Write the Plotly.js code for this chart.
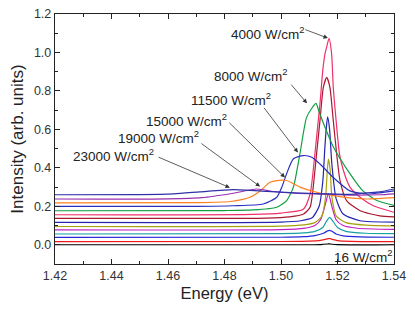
<!DOCTYPE html>
<html>
<head>
<meta charset="utf-8">
<script src="https://cdn.plot.ly/plotly-3.0.1.min.js"></script>
<style>html,body{margin:0;padding:0;background:#fff;}#chart{width:415px;height:312px;}</style>
</head>
<body>
<div id="chart"></div>
<script>
// Spectra (x = energy eV, y = intensity incl. vertical offset)
const x00 = [1.42, 1.51, 1.514, 1.5165, 1.517, 1.5175, 1.52, 1.54];
const y00 = [0.0, 0.0, 0.001, 0.004, 0.005, 0.004, 0.001, 0.0];
const x01 = [1.42, 1.50, 1.510, 1.514, 1.516, 1.517, 1.518, 1.520, 1.525, 1.54];
const y01 = [0.016, 0.017, 0.019, 0.023, 0.029, 0.033, 0.029, 0.022, 0.018, 0.016];
const x02 = [1.42, 1.50, 1.508, 1.512, 1.515, 1.5165, 1.5172, 1.518, 1.5195, 1.522, 1.528, 1.54];
const y02 = [0.038, 0.039, 0.042, 0.048, 0.06, 0.072, 0.075, 0.07, 0.056, 0.046, 0.041, 0.039];
const x03 = [1.42, 1.50, 1.508, 1.512, 1.5148, 1.516, 1.5172, 1.5185, 1.520, 1.523, 1.53, 1.54];
const y03 = [0.056, 0.058, 0.062, 0.07, 0.09, 0.12, 0.142, 0.12, 0.09, 0.07, 0.06, 0.058];
const x04 = [1.42, 1.50, 1.508, 1.512, 1.514, 1.5155, 1.5168, 1.518, 1.5195, 1.522, 1.527, 1.54];
const y04 = [0.077, 0.079, 0.085, 0.1, 0.13, 0.2, 0.265, 0.2, 0.13, 0.1, 0.086, 0.08];
const x05 = [1.42, 1.50, 1.508, 1.512, 1.5145, 1.5158, 1.5164, 1.5168, 1.5174, 1.518, 1.5195, 1.523, 1.53, 1.54];
const y05 = [0.095, 0.097, 0.103, 0.115, 0.15, 0.25, 0.39, 0.445, 0.39, 0.25, 0.15, 0.115, 0.102, 0.098];
const x06 = [1.42, 1.50, 1.507, 1.511, 1.5135, 1.5148, 1.5155, 1.516, 1.5165, 1.5172, 1.518, 1.5195, 1.522, 1.528, 1.54];
const y06 = [0.116, 0.118, 0.125, 0.14, 0.2, 0.33, 0.5, 0.6, 0.665, 0.6, 0.42, 0.24, 0.16, 0.125, 0.118];
const x07 = [1.42, 1.495, 1.503, 1.508, 1.5103, 1.5114, 1.5126, 1.5138, 1.515, 1.5162, 1.5173, 1.5185, 1.5197, 1.5209, 1.5232, 1.528, 1.535, 1.54];
const y07 = [0.137, 0.139, 0.145, 0.16, 0.195, 0.3, 0.473, 0.647, 0.82, 0.87, 0.82, 0.647, 0.473, 0.334, 0.23, 0.177, 0.15, 0.145];
const x08 = [1.42, 1.49, 1.500, 1.5079, 1.5103, 1.5114, 1.5126, 1.5138, 1.5148, 1.5156, 1.5162, 1.517, 1.5179, 1.5185, 1.5195, 1.5207, 1.5221, 1.5244, 1.528, 1.5327, 1.54];
const y08 = [0.156, 0.158, 0.165, 0.185, 0.264, 0.386, 0.56, 0.734, 0.908, 0.995, 1.03, 1.073, 0.995, 0.82, 0.647, 0.473, 0.386, 0.3, 0.247, 0.203, 0.169];
const x09 = [1.42, 1.48, 1.4902, 1.4985, 1.502, 1.5044, 1.5067, 1.509, 1.5109, 1.5124, 1.5135, 1.5156, 1.5185, 1.5244, 1.529, 1.5339, 1.54];
const y09 = [0.177, 0.178, 0.181, 0.195, 0.23, 0.3, 0.473, 0.66, 0.71, 0.735, 0.69, 0.61, 0.51, 0.37, 0.28, 0.23, 0.205];
const x10 = [1.42, 1.47, 1.4831, 1.4937, 1.4985, 1.5003, 1.502, 1.5044, 1.5079, 1.5109, 1.5138, 1.5185, 1.5244, 1.5303, 1.535, 1.54];
const y10 = [0.2, 0.2, 0.203, 0.212, 0.247, 0.3, 0.37, 0.447, 0.464, 0.455, 0.42, 0.35, 0.28, 0.264, 0.27, 0.28];
const x11 = [1.42, 1.47, 1.482, 1.489, 1.4926, 1.4961, 1.4985, 1.502, 1.5067, 1.5126, 1.5185, 1.5303, 1.54];
const y11 = [0.218, 0.219, 0.225, 0.247, 0.28, 0.325, 0.334, 0.334, 0.3, 0.273, 0.256, 0.238, 0.245];
const x12 = [1.42, 1.46, 1.472, 1.4831, 1.4914, 1.4973, 1.505, 1.515, 1.525, 1.535, 1.54];
const y12 = [0.238, 0.239, 0.245, 0.268, 0.29, 0.277, 0.268, 0.263, 0.258, 0.26, 0.265];
const x13 = [1.42, 1.45, 1.462, 1.4713, 1.483, 1.495, 1.505, 1.515, 1.525, 1.53, 1.535, 1.54];
const y13 = [0.26, 0.261, 0.265, 0.275, 0.287, 0.278, 0.27, 0.265, 0.262, 0.27, 0.275, 0.29];

const seriesX = [x00, x01, x02, x03, x04, x05, x06, x07, x08, x09, x10, x11, x12, x13];
const seriesY = [y00, y01, y02, y03, y04, y05, y06, y07, y08, y09, y10, y11, y12, y13];
const colors = ['#000000', '#f01818', '#2828d8', '#1aa0a0', '#c020c0', '#a8a010', '#2424b0',
                '#a81830', '#f0306a', '#10a040', '#2830c0', '#ff8020', '#9830b0', '#3030a8'];

// Labels
const labelTexts = ['4000 W/cm<sup>2</sup>', '8000 W/cm<sup>2</sup>', '11500 W/cm<sup>2</sup>',
                    '15000 W/cm<sup>2</sup>', '19000 W/cm<sup>2</sup>', '23000 W/cm<sup>2</sup>', '16 W/cm<sup>2</sup>'];
const labelX = [1.4819, 1.4760, 1.4678, 1.4519, 1.4418, 1.4259, 1.5184];
const labelY = [1.1007, 0.8816, 0.76, 0.6468, 0.5597, 0.4643, -0.0574];
// arrows: tail -> tip
const arrowTailX = [1.5081, 1.5032, 1.4936, 1.4812, 1.4713, 1.4561];
const arrowTailY = [1.1216, 0.84, 0.72, 0.642, 0.532, 0.459];
const arrowTipX = [1.5166, 1.5092, 1.506, 1.5014, 1.4926, 1.4819];
const arrowTipY = [1.0746, 0.7355, 0.48, 0.35, 0.3026, 0.297];

const traces = seriesX.map((xs, i) => ({
  x: xs, y: seriesY[i], type: 'scatter', mode: 'lines',
  line: {color: colors[i], width: 1.2, shape: 'spline', smoothing: 0.6},
  hoverinfo: 'skip', showlegend: false
}));

const annotations = [];
labelTexts.forEach((t, i) => {
  annotations.push({x: labelX[i], y: labelY[i], xref: 'x', yref: 'y', text: t, showarrow: false,
    xanchor: 'left', yanchor: 'middle', borderpad: 0,
    font: {family: 'Liberation Sans, Arial, sans-serif', size: 13.5, color: '#222'}});
});
arrowTipX.forEach((tx, i) => {
  annotations.push({x: tx, y: arrowTipY[i], xref: 'x', yref: 'y', ax: arrowTailX[i], ay: arrowTailY[i],
    axref: 'x', ayref: 'y', text: '', showarrow: true, arrowhead: 2, arrowsize: 1.1, arrowwidth: 0.8,
    arrowcolor: '#333'});
});

const axisCommon = {
  showline: true, linecolor: '#222', linewidth: 1.2, mirror: 'allticks',
  ticks: 'inside', ticklen: 5, tickwidth: 1, tickcolor: '#222',
  showgrid: false, zeroline: false,
  tickfont: {family: 'Liberation Sans, Arial, sans-serif', size: 12.5, color: '#333'}
};

const layout = {
  width: 415, height: 312,
  margin: {l: 55, r: 21, t: 14, b: 48},
  paper_bgcolor: '#fff', plot_bgcolor: '#fff',
  xaxis: Object.assign({}, axisCommon, {
    range: [1.42, 1.54], dtick: 0.02, tick0: 1.42, tickformat: '.2f',
    minor: {ticks: 'inside', ticklen: 3, dtick: 0.01, tickcolor: '#222'},
    title: {text: 'Energy (eV)', standoff: 5, font: {family: 'Liberation Sans, Arial, sans-serif', size: 16.5, color: '#222'}}
  }),
  yaxis: Object.assign({}, axisCommon, {
    range: [-0.1, 1.2], dtick: 0.2, tick0: 0, tickformat: '.1f',
    minor: {ticks: 'inside', ticklen: 3, dtick: 0.1, tickcolor: '#222'},
    title: {text: 'Intensity (arb. units)', standoff: 6, font: {family: 'Liberation Sans, Arial, sans-serif', size: 17, color: '#222'}}
  }),
  annotations: annotations
};

Plotly.newPlot('chart', traces, layout, {displayModeBar: false, staticPlot: true});
</script>
</body>
</html>
